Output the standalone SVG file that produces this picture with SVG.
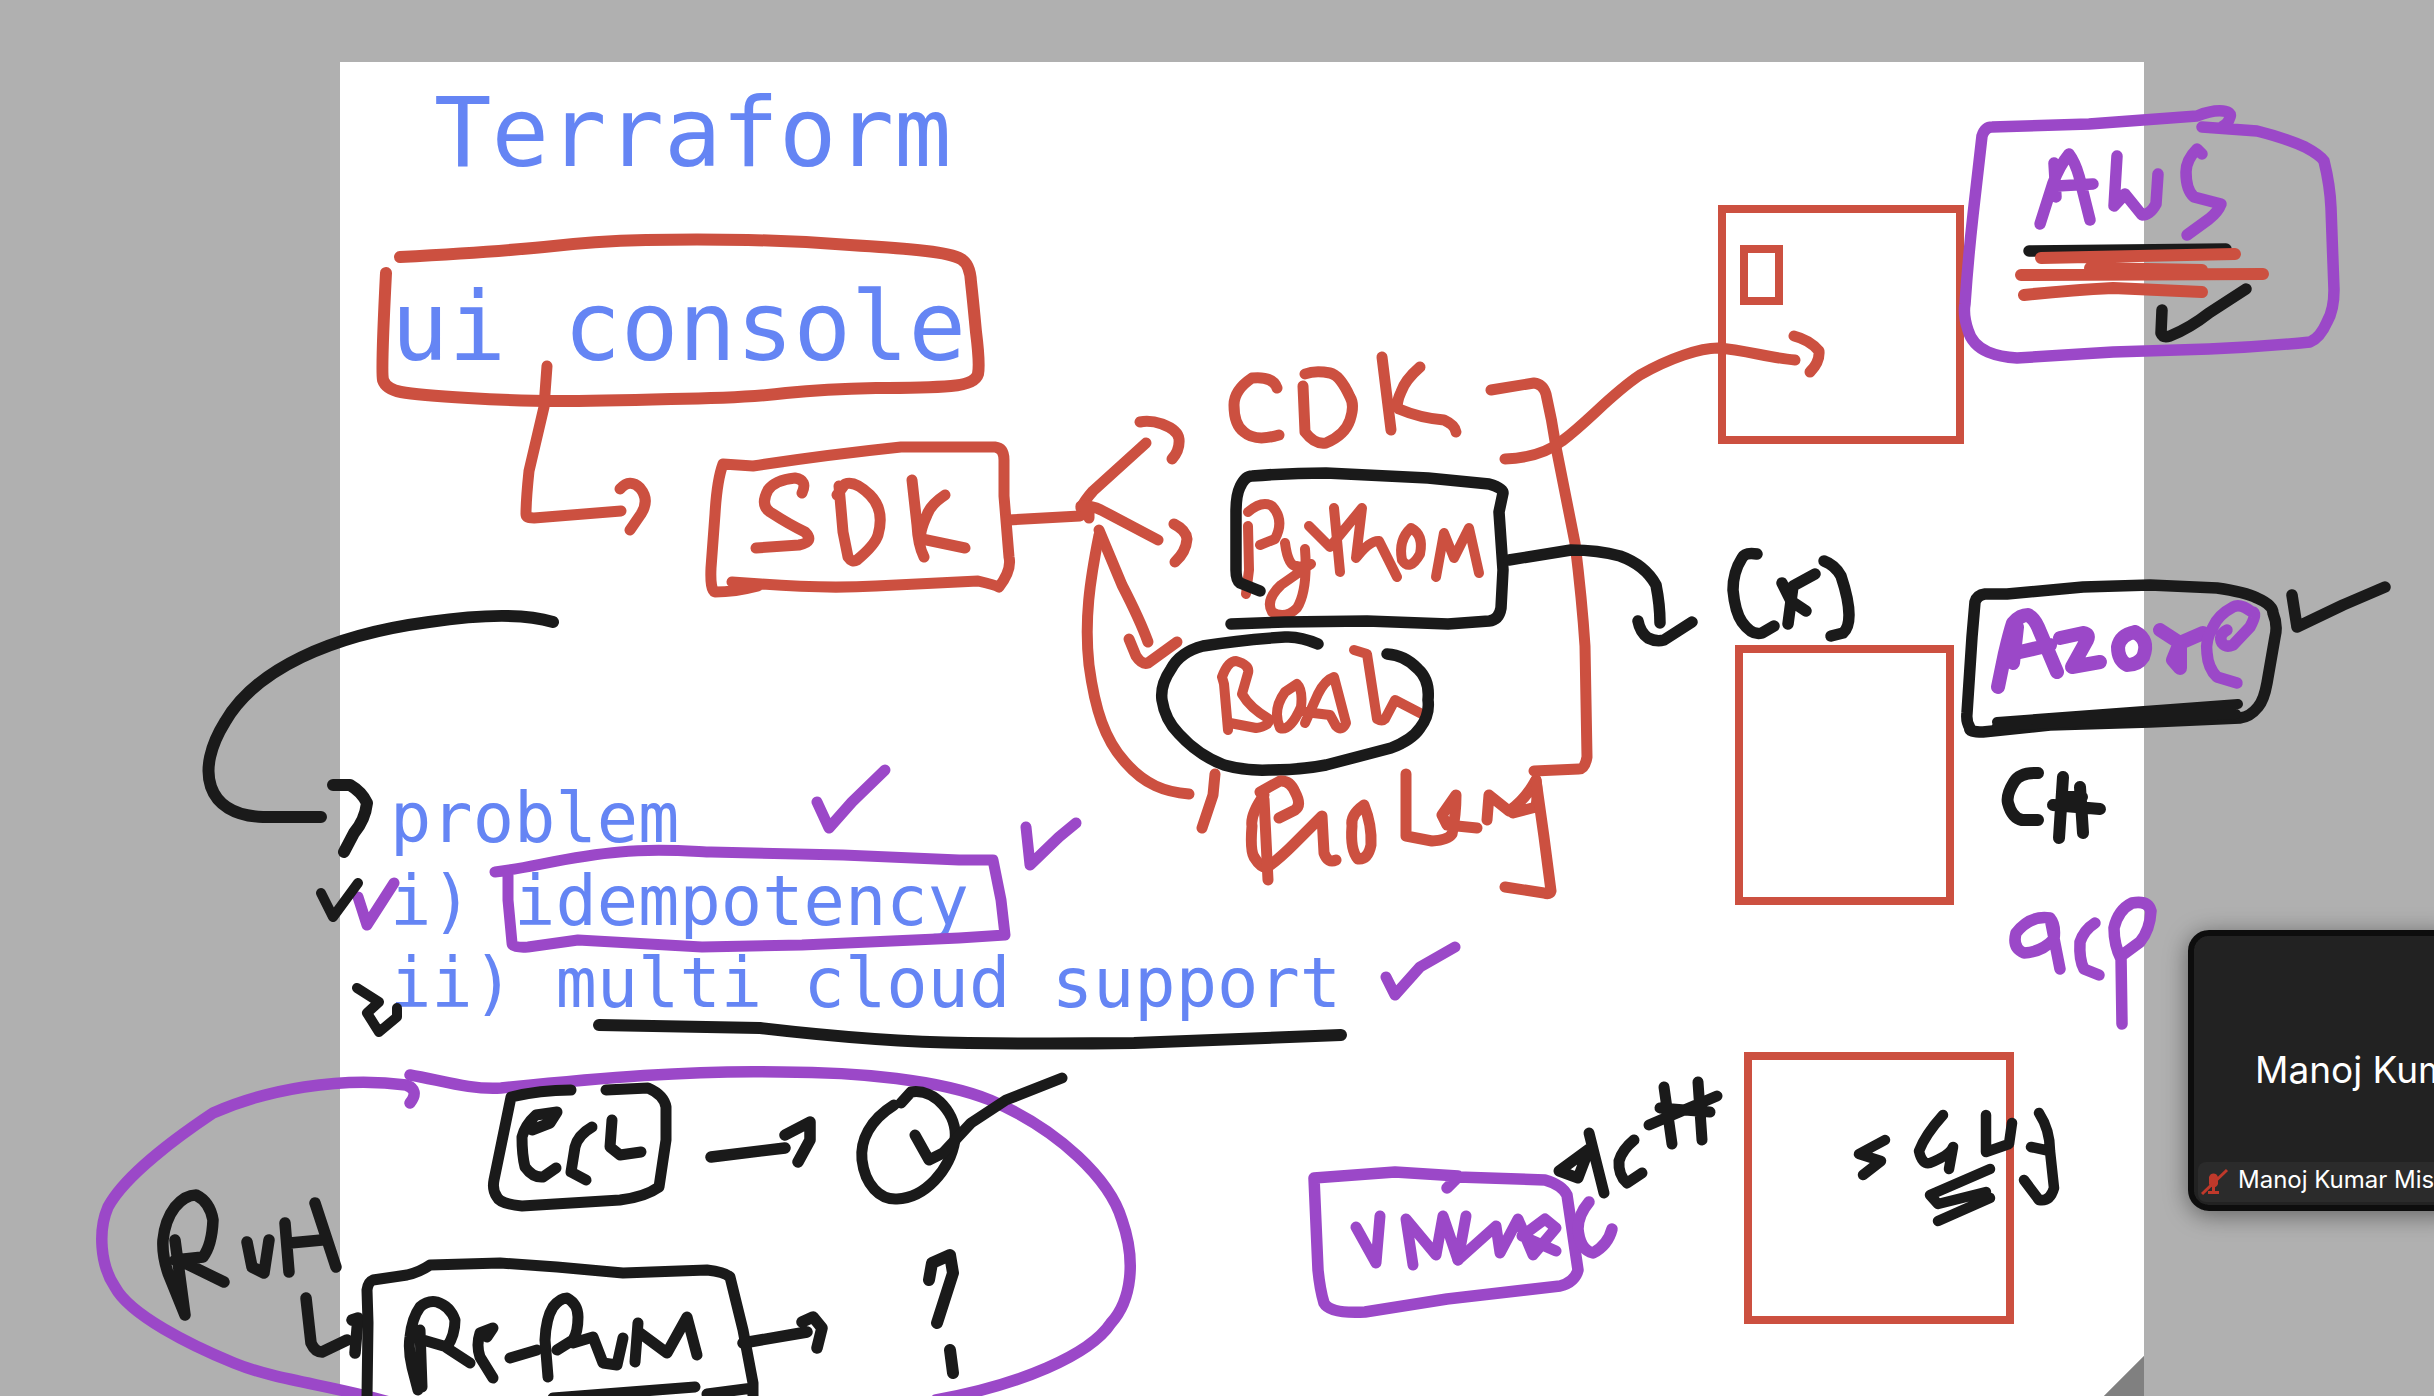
<svg xmlns="http://www.w3.org/2000/svg" width="2434" height="1396" viewBox="0 0 2434 1396">
<style>
.r,.k,.p,.bx{fill:none;stroke-linecap:round;stroke-linejoin:round}
.r{stroke:#cc5040;stroke-width:11}
.k{stroke:#1a1a1a;stroke-width:11.5}
.p{stroke:#9b48c8;stroke-width:11.5}
.bx{stroke:#cc5040;stroke-width:8;stroke-linejoin:miter}
.t{font-family:"DejaVu Sans Mono",monospace;fill:#6585f4}
.big{font-size:95.5px}
.mid{font-size:68.7px}
.n{font-family:Inter,"Liberation Sans",sans-serif;fill:#fff}
</style>
<defs><filter id="sh" x="-20%" y="-20%" width="140%" height="140%"><feDropShadow dx="0" dy="4" stdDeviation="12" flood-color="#000" flood-opacity=".45"/></filter></defs>
<rect width="2434" height="1396" fill="#b0b0b0"/>
<path d="M340 62H2144V1356L2104 1396H340Z" fill="#fff"/>
<path d="M2144 1356V1396H2104Z" fill="#808080"/>
<g id="title"><text class="t big" x="434" y="166">Terraform</text></g>
<g id="ui-console">
<text class="t big" x="391" y="360">ui console</text>
<path class="r" style="stroke-width:12" d="M400 257Q493 252 544 247Q595 241 646 240Q697 239 748 240Q799 241 850 245Q901 248 926 251Q952 254 961 259Q970 264 971 282Q973 300 976 332Q980 364 978 374Q975 384 951 386Q927 388 876 388Q825 389 786 393Q748 398 671 399Q595 401 557 401Q519 401 468 398Q417 395 401 392Q386 389 383 380Q381 371 386 273"/>
</g>
<g id="sdk" class="r">
<path d="M732 582L761 584Q825 589 876 586L978 581Q995 585 999 587Q1012 570 1009 557L1004 496V460Q1004 448 995 447L901 447Q825 455 753 466L723 464Q717 480 715 514L711 568Q710 590 715 592Q735 592 758 586"/>
<path d="M802 493Q808 480 795 478Q775 480 768 490Q760 505 770 512Q790 525 805 532Q815 542 799 545L756 548"/>
<path d="M839 486L843 532L848 557Q852 563 857 560Q875 545 878 535Q885 510 870 495Q855 480 845 484L837 495"/>
<path d="M912 480L917 525Q918 545 924 557M945 495Q930 505 927 515Q918 535 922 539L965 548"/>
</g>
<g id="cdk" class="r">
<path d="M1277 388Q1273 376 1252 378Q1234 390 1234 405Q1234 425 1244 432Q1255 442 1279 435"/>
<path d="M1303 386L1305 432Q1315 445 1326 443Q1345 435 1350 420Q1355 405 1350 397Q1340 375 1330 373Q1315 370 1305 374"/>
<path d="M1382 357L1391 430M1420 367Q1405 380 1401 392Q1395 405 1399 409Q1420 418 1444 420Q1455 425 1456 432"/>
</g>
<g id="python">
<g class="r" style="stroke-width:10">
<path d="M1248 526L1249 570L1246 594M1248 512Q1262 500 1272 506Q1285 520 1275 539L1260 545"/>
<path d="M1285 543Q1288 566 1296 566Q1305 568 1311 564M1305 549Q1308 590 1297 608Q1285 620 1272 612Q1265 600 1281 585L1311 564"/>
<path d="M1334 508L1340 572M1309 526L1330 547L1362 508L1356 558Q1370 540 1379 541L1397 577"/>
<path d="M1411 528Q1398 540 1402 560Q1410 572 1420 554Q1424 535 1411 528"/>
<path d="M1436 577L1444 533L1454 558L1469 528L1479 573"/>
</g>
<path class="k" d="M1260 591L1240 583Q1236 580 1236 570V512Q1236 495 1240 487Q1245 476 1252 476Q1290 473 1326 473L1428 478L1489 484Q1503 488 1503 493L1499 512L1503 570L1501 608Q1499 620 1489 621L1448 624L1367 621L1285 622L1231 624"/>
</g>
<g id="bash">
<g class="r" style="stroke-width:10">
<path d="M1228 730L1224 684L1222 677Q1228 661 1236 661Q1250 665 1248 673L1242 694Q1250 708 1269 719Q1270 726 1256 728L1230 723"/>
<path d="M1285 692Q1272 710 1280 728Q1290 732 1301 707Q1303 690 1297 684L1285 692"/>
<path d="M1305 723L1318 694Q1325 680 1334 677L1346 723Q1342 732 1336 726L1330 715L1305 712"/>
<path d="M1354 650L1367 654L1377 719Q1382 722 1385 719L1395 700L1420 713"/>
</g>
<path class="k" d="M1318 644Q1300 636 1285 637Q1240 640 1203 646Q1180 652 1171 669Q1160 685 1162 700Q1165 720 1179 734Q1198 755 1224 765Q1245 771 1269 770Q1300 770 1326 765L1391 748Q1412 740 1420 728Q1430 715 1428 700Q1430 680 1418 669Q1405 655 1387 654"/>
</g>
<g id="golang" class="r">
<path d="M1260 792L1280 781Q1290 780 1295 792Q1302 805 1295 810L1279 818"/>
<path d="M1264 795Q1250 815 1252 826Q1250 850 1254 857Q1262 870 1269 866Q1280 858 1293 845L1322 816L1324 853Q1328 864 1336 860"/>
<path d="M1264 799L1268 880"/>
<path d="M1364 805Q1350 815 1352 826Q1350 850 1358 859Q1368 860 1371 845Q1372 825 1364 805"/>
<path d="M1406 774V836L1432 841Q1448 840 1452 834Q1456 815 1456 795L1442 815L1447 825L1477 828M1487 820L1489 795L1509 811Q1525 800 1536 780Q1538 795 1536 807L1513 813"/>
<path d="M1536 780L1544 837L1551 891Q1550 895 1544 893L1505 887"/>
</g>
<g id="bracket" class="r"><path d="M1491 390L1534 383Q1543 384 1546 394Q1552 420 1556 447L1575 543Q1582 600 1585 646L1587 757Q1585 769 1579 769L1534 771"/></g>
<g id="box-aws">
<rect class="bx" x="1722" y="209" width="238" height="231"/>
<rect class="bx" x="1744" y="249" width="35" height="52"/>
</g>
<rect id="box-azure" class="bx" x="1739" y="649" width="211" height="252"/>
<rect id="box-gcp" class="bx" x="1748" y="1056" width="262" height="264"/>
<g id="aws">
<path class="k" d="M2029 251L2226 249"/>
<g class="r" style="stroke-width:12">
<path d="M2041 258L2235 254M2021 275L2263 274M2090 268L2202 270"/>
<path d="M2024 295Q2070 290 2113 288L2202 292"/>
</g>
<path class="k" d="M2162 310L2161 333Q2163 338 2170 336Q2190 328 2209 313L2246 289"/>
<path class="p" d="M2202 127L2257 131Q2285 138 2305 147Q2320 155 2324 161Q2330 185 2331 208L2334 290Q2334 310 2327 322Q2320 338 2310 342Q2260 347 2209 349L2113 352L2017 358Q2000 357 1988 352Q1972 345 1968 330Q1963 315 1965 304Q1968 260 1973 215L1982 136Q1985 127 1992 127L2089 124L2197 116Q2212 110 2223 111Q2232 112 2230 117Q2228 124 2223 126"/>
<g class="p">
<path d="M2040 224L2053 183Q2060 165 2069 154Q2075 162 2079 176L2090 220M2057 186L2093 184M2054 163L2056 197"/>
<path d="M2117 156L2114 206L2125 194L2142 215Q2150 215 2156 204L2158 174"/>
<path d="M2202 154L2197 149Q2186 160 2186 172Q2186 190 2194 197L2221 204Q2218 212 2209 219L2187 235"/>
</g>
</g>
<g id="azure">
<g class="p" style="stroke-width:14">
<path d="M1998 687L2005 653Q2010 632 2013 623Q2020 615 2028 615Q2034 618 2038 627L2057 672M2017 627L2013 663M2020 652L2050 645"/>
<path d="M2060 638L2083 633Q2090 634 2087 640L2072 667L2100 662"/>
<path d="M2135 632Q2120 635 2118 647Q2118 660 2127 665Q2138 665 2143 657Q2150 640 2135 632"/>
<path d="M2160 630L2180 643L2180 668L2173 660L2180 643L2203 633"/>
</g>
<path class="p" d="M2227 630Q2218 635 2222 643Q2226 648 2233 645L2250 627Q2258 612 2252 612Q2240 603 2233 607Q2218 615 2213 627Q2205 640 2207 653Q2208 668 2217 677L2237 683"/>
<path class="k" d="M1975 602Q1977 595 1985 594L2007 594L2083 587L2150 585L2217 588Q2245 592 2257 598Q2273 605 2273 613Q2278 625 2275 637L2267 683Q2264 700 2258 707Q2250 717 2240 718L2150 722L2050 725L1983 732Q1968 732 1970 728Q1966 722 1967 713L1972 637L1975 602"/>
<path class="k" style="stroke-width:10" d="M1997 722L2238 704M1997 726L2236 714"/>
<path class="k" d="M2292 595L2297 627L2343 605L2385 587"/>
</g>
<g id="csharp" class="k" style="stroke-width:12">
<path d="M2038 773Q2020 772 2014 782Q2006 795 2008 803Q2012 818 2022 820L2038 820"/>
<path d="M2063 777L2059 838M2080 787L2083 833M2053 805L2100 809M2062 797L2082 797"/>
</g>
<g id="x-mark" class="k">
<path d="M1757 554Q1745 552 1742 558Q1733 572 1733 590Q1735 612 1742 622Q1752 636 1762 633L1774 626"/>
<path d="M1782 583L1791 601L1806 611M1815 574L1793 586L1788 624"/>
<path d="M1824 561Q1835 565 1841 576Q1849 600 1849 615Q1849 628 1843 633L1831 636"/>
</g>
<g id="gcp" class="p">
<path d="M2050 918Q2030 915 2016 933Q2012 948 2024 953Q2042 952 2054 939Q2056 925 2050 918L2060 969"/>
<path d="M2095 923Q2084 930 2080 942Q2079 960 2084 969L2099 975"/>
<path d="M2121 959Q2114 945 2114 928Q2118 910 2132 903Q2148 900 2151 911Q2150 930 2140 942L2121 956L2122 1024"/>
</g>
<g id="vmware">
<g class="p" style="stroke-width:11">
<path d="M1356 1227L1376 1263L1380 1216"/>
<path d="M1413 1265L1406 1219L1436 1255L1443 1216L1458 1260L1466 1216"/>
<path d="M1458 1260L1496 1226L1500 1253L1518 1219L1533 1255L1556 1228L1545 1219L1522 1236L1556 1251"/>
</g>
<path class="p" d="M1447 1188L1458 1177L1545 1180Q1562 1185 1567 1195L1578 1270Q1575 1282 1560 1286L1447 1299L1365 1312Q1330 1314 1324 1303Q1320 1290 1318 1270L1314 1178L1395 1172L1458 1176"/>
<path class="p" d="M1589 1202Q1578 1215 1578 1229Q1580 1250 1593 1253Q1608 1245 1612 1229"/>
</g>
<g id="c-hash" class="k" style="stroke-width:11">
<path d="M1559 1171L1589 1149L1578 1178L1559 1171M1589 1133L1604 1193"/>
<path d="M1634 1140Q1622 1150 1619 1161Q1618 1175 1627 1183L1642 1173"/>
<path d="M1664 1087L1672 1144M1649 1125L1717 1096M1698 1082L1702 1140M1660 1108L1710 1112"/>
</g>
<g id="gary" class="k" style="stroke-width:10.5">
<path d="M1885 1140L1859 1154L1881 1161L1863 1175"/>
<path d="M1943 1115Q1925 1135 1919 1151Q1922 1165 1930 1163Q1950 1155 1953 1147L1949 1169"/>
<path d="M1986 1115V1152L2009 1144L2012 1123M2039 1113Q2050 1130 2050 1151L2054 1188Q2050 1202 2039 1200L2024 1180M2031 1147L2050 1151"/>
<path d="M1990 1169L1930 1195L1938 1204L1986 1192M1938 1221L1990 1198"/>
</g>
<g id="problem-list">
<text class="t mid" x="390" y="842">problem</text>
<text class="t mid" x="390" y="925">i) idempotency</text>
<text class="t mid" x="390" y="1007">ii) multi cloud support</text>
<g class="p" style="stroke-width:11">
<path d="M495 872C530 868 570 856 620 852C660 848 700 852 711 852L843 855L959 860L993 860L1001 900L1005 935L959 938L802 945L702 947L578 940L528 947Q512 948 512 943L508 900L508 875"/>
<path d="M817 802L829 828L852 802L885 770M1026 827L1030 865L1059 837L1076 823M358 897L367 925L394 883M1386 977L1395 995L1420 967L1455 947"/>
</g>
<path class="k" style="stroke-width:10" d="M321 893L333 917L358 883M357 988L379 1002L367 1013L379 1032L397 1017L397 1008"/>
<path class="k" style="stroke-width:12" d="M599 1025L760 1028Q880 1042 968 1043Q1050 1044 1134 1043L1341 1035"/>
</g>
<g id="connectors">
<path class="r" d="M547 366L544 407L529 471Q526 500 526 514Q526 518 534 518L621 511M620 489Q630 478 640 488Q650 500 641 514L630 530"/>
<path class="r" d="M1008 520L1080 516Q1085 512 1081 508M1081 508Q1085 500 1093 491L1146 443M1140 422Q1150 420 1162 424Q1178 430 1179 439Q1180 450 1172 459"/>
<path class="r" d="M1081 506Q1090 505 1101 510L1158 540M1174 524Q1186 530 1187 539Q1186 552 1175 562M1089 518L1089 510"/>
<path class="r" d="M1099 530L1122 585Q1140 620 1148 642M1129 639L1136 656Q1142 665 1148 663L1177 642"/>
<path class="r" d="M1099 535C1090 580 1084 620 1089 665C1095 710 1105 740 1125 762C1145 785 1165 792 1189 794M1215 774L1213 795L1202 828"/>
<path class="r" d="M1505 459C1530 458 1548 452 1562 441C1590 420 1610 395 1640 375C1670 358 1700 348 1718 348C1745 350 1770 358 1795 360M1794 336Q1810 340 1819 351Q1820 362 1810 372"/>
<path class="k" d="M1509 560L1571 550Q1598 550 1620 556Q1645 565 1656 585Q1660 605 1660 623M1638 621Q1640 632 1648 638Q1656 642 1664 640L1692 622"/>
<path class="k" style="stroke-width:12" d="M553 622C520 612 470 616 429 622C330 635 255 670 225 722C195 770 205 815 263 817L321 817M333 785L350 785Q362 792 367 803Q365 820 354 833L344 852"/>
<path class="k" d="M711 1157L785 1148M785 1135L810 1122L810 1140L798 1162"/>
<path class="k" d="M306 1298L311 1343Q315 1352 322 1352L347 1340M352 1320L358 1318L355 1353"/>
<path class="k" d="M743 1343L807 1332M802 1322L813 1317L822 1328L817 1348"/>
</g>
<g id="run">
<path class="p" d="M410 1103Q420 1090 406 1085C340 1076 265 1090 213 1113C180 1135 125 1175 108 1207C98 1230 100 1265 115 1287C130 1315 190 1345 234 1363C275 1380 330 1385 389 1402"/>
<path class="p" d="M410 1075C440 1080 470 1090 501 1088C600 1078 690 1070 781 1072C860 1072 940 1080 990 1100C1060 1130 1110 1180 1122 1220C1136 1260 1132 1300 1111 1323C1090 1355 1020 1385 936 1400"/>
<g class="k">
<path d="M185 1315L168 1273Q162 1255 163 1240Q165 1220 175 1207Q185 1195 196 1195Q210 1202 213 1220Q212 1245 203 1257L175 1260M175 1240L185 1315M185 1263L224 1282"/>
<path d="M247 1242L252 1267L264 1273L269 1240M285 1223L289 1272M290 1243L322 1240M315 1203L336 1267"/>
</g>
</g>
<g id="ec2" class="k" style="stroke-width:11">
<path d="M606 1090L648 1088Q664 1095 666 1107V1140L659 1187Q645 1197 620 1200L522 1206Q500 1204 497 1197Q492 1190 494 1180L511 1097Q540 1090 571 1090"/>
<path d="M532 1130L550 1123L557 1112L536 1115Q525 1125 522 1137Q522 1155 525 1167Q533 1178 543 1177L556 1168"/>
<path d="M592 1127Q578 1135 575 1147L571 1172L586 1180M612 1120L610 1147L620 1155L641 1152"/>
</g>
<g id="applied" class="k" style="stroke-width:11">
<path d="M894 1105C870 1120 860 1140 862 1160C865 1185 880 1200 897 1199C925 1198 950 1170 955 1140C958 1115 935 1088 911 1092L901 1103"/>
<path d="M915 1135L929 1160L943 1153L971 1123L1006 1100L1062 1078"/>
</g>
<g id="rerun" class="k" style="stroke-width:11">
<path d="M367 1397L368 1323L367 1290Q368 1282 373 1280L407 1275Q420 1272 430 1265L500 1263L557 1267L623 1273L707 1270Q725 1272 730 1277L743 1330L753 1383V1397M707 1394L753 1388"/>
<path d="M553 1398L695 1387"/>
<path d="M418 1390L412 1367Q408 1350 410 1337Q412 1318 420 1307Q428 1300 437 1302Q450 1306 455 1320Q455 1335 447 1347L423 1340M420 1330L422 1387M447 1348L470 1363"/>
<path d="M487 1337L493 1328L480 1333Q476 1345 480 1357L493 1378"/>
<path d="M510 1358L537 1350"/>
<path d="M548 1377L545 1340Q546 1318 553 1307Q560 1298 567 1298Q578 1304 578 1317Q578 1332 573 1340L557 1350M573 1343L593 1337L603 1363L617 1365L623 1338"/>
<path d="M638 1323L635 1362M640 1333L667 1353L687 1317L697 1355"/>
</g>
<g id="question" class="k" style="stroke-width:12">
<path d="M929 1280L932 1263L950 1255L953 1273L937 1323M950 1350L953 1373"/>
</g>
<g id="video-panel">
<rect x="2191" y="933" width="270" height="275" rx="18" fill="#242424" stroke="#0e0e0e" stroke-width="6" filter="url(#sh)"/>
<rect x="2198" y="1162" width="250" height="40" rx="8" fill="#2b2b2b"/>
<text class="n" x="2255" y="1083" font-size="37">Manoj Kum</text>
<text class="n" x="2238" y="1188" font-size="24">Manoj Kumar Mish</text>
<path d="M2209 1177a5 6 0 0 1 9 0v7a5 6 0 0 1-9 0zM2212 1186h3v6h-3zM2208 1191h11v3h-11z" fill="#c0392b"/>
<path d="M2227 1170L2202 1194" stroke="#c0392b" stroke-width="3" fill="none"/>
</g>
</svg>
